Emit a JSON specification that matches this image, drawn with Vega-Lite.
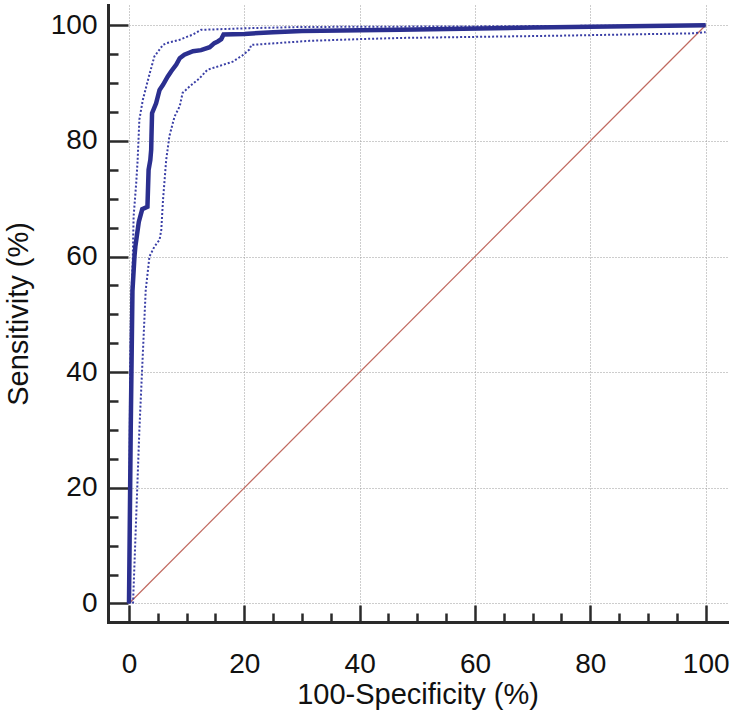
{
  "$schema": "https://vega.github.io/schema/vega-lite/v6.json",
  "width": 619,
  "height": 617,
  "autosize": "none",
  "padding": {"left": 108, "top": 5, "right": 9, "bottom": 98},
  "background": "white",
  "config": {
    "view": {"stroke": null},
    "axis": {
      "labelFont": "Liberation Sans",
      "titleFont": "Liberation Sans",
      "labelFontSize": 28,
      "titleFontSize": 29,
      "titleFontWeight": "normal",
      "labelColor": "#111",
      "titleColor": "#111",
      "domainColor": "#2a2a2a",
      "domainWidth": 3,
      "domainCap": "square",
      "tickColor": "#2a2a2a",
      "tickWidth": 2.5,
      "gridColor": "#9a9a9a",
      "gridDash": [1, 2],
      "gridWidth": 1
    }
  },
  "datasets": {
    "roc": [
      {"series": "main", "o": 1, "x": 0, "y": 0},
      {"series": "main", "o": 2, "x": 0.3, "y": 30},
      {"series": "main", "o": 3, "x": 0.6, "y": 54},
      {"series": "main", "o": 4, "x": 0.95, "y": 60},
      {"series": "main", "o": 5, "x": 1.1, "y": 61.7},
      {"series": "main", "o": 6, "x": 1.7, "y": 66},
      {"series": "main", "o": 7, "x": 2.3, "y": 68.2},
      {"series": "main", "o": 8, "x": 3.2, "y": 68.6},
      {"series": "main", "o": 9, "x": 3.4, "y": 75},
      {"series": "main", "o": 10, "x": 3.7, "y": 76.7},
      {"series": "main", "o": 11, "x": 3.85, "y": 78.5},
      {"series": "main", "o": 12, "x": 3.9, "y": 80.8},
      {"series": "main", "o": 13, "x": 4.0, "y": 84.8},
      {"series": "main", "o": 14, "x": 4.7, "y": 86.5},
      {"series": "main", "o": 15, "x": 5.3, "y": 88.8},
      {"series": "main", "o": 16, "x": 5.9, "y": 89.7},
      {"series": "main", "o": 17, "x": 6.7, "y": 91.1},
      {"series": "main", "o": 18, "x": 7.3, "y": 92},
      {"series": "main", "o": 19, "x": 8.2, "y": 93.2},
      {"series": "main", "o": 20, "x": 8.8, "y": 94.3},
      {"series": "main", "o": 21, "x": 9.6, "y": 94.9},
      {"series": "main", "o": 22, "x": 11.1, "y": 95.5},
      {"series": "main", "o": 23, "x": 12.5, "y": 95.7},
      {"series": "main", "o": 24, "x": 14, "y": 96.2},
      {"series": "main", "o": 25, "x": 14.8, "y": 96.9},
      {"series": "main", "o": 26, "x": 15.4, "y": 97.2},
      {"series": "main", "o": 27, "x": 16, "y": 97.6},
      {"series": "main", "o": 28, "x": 16.4, "y": 98.4},
      {"series": "main", "o": 29, "x": 20, "y": 98.5},
      {"series": "main", "o": 30, "x": 25, "y": 98.8},
      {"series": "main", "o": 31, "x": 30, "y": 99.0},
      {"series": "main", "o": 32, "x": 47, "y": 99.2},
      {"series": "main", "o": 33, "x": 70, "y": 99.6},
      {"series": "main", "o": 34, "x": 100, "y": 100},
      {"series": "upper", "o": 1, "x": 0, "y": 0},
      {"series": "upper", "o": 2, "x": 0.2, "y": 40},
      {"series": "upper", "o": 3, "x": 0.4, "y": 53},
      {"series": "upper", "o": 4, "x": 0.65, "y": 59.4},
      {"series": "upper", "o": 5, "x": 0.8, "y": 66.9},
      {"series": "upper", "o": 6, "x": 1.25, "y": 72.7},
      {"series": "upper", "o": 7, "x": 1.5, "y": 76.7},
      {"series": "upper", "o": 8, "x": 1.8, "y": 83.7},
      {"series": "upper", "o": 9, "x": 2.4, "y": 87.1},
      {"series": "upper", "o": 10, "x": 3.6, "y": 91.7},
      {"series": "upper", "o": 11, "x": 4.4, "y": 94.6},
      {"series": "upper", "o": 12, "x": 5.9, "y": 96.6},
      {"series": "upper", "o": 13, "x": 6.5, "y": 96.9},
      {"series": "upper", "o": 14, "x": 8.8, "y": 97.5},
      {"series": "upper", "o": 15, "x": 11.1, "y": 98.4},
      {"series": "upper", "o": 16, "x": 12.5, "y": 99.2},
      {"series": "upper", "o": 17, "x": 20.9, "y": 99.5},
      {"series": "upper", "o": 18, "x": 30, "y": 99.7},
      {"series": "upper", "o": 19, "x": 60, "y": 99.8},
      {"series": "upper", "o": 20, "x": 100, "y": 100},
      {"series": "lower", "o": 1, "x": 0.7, "y": 0},
      {"series": "lower", "o": 2, "x": 1.8, "y": 30},
      {"series": "lower", "o": 3, "x": 2.9, "y": 54.2},
      {"series": "lower", "o": 4, "x": 3.55, "y": 60},
      {"series": "lower", "o": 5, "x": 4.4, "y": 61.7},
      {"series": "lower", "o": 6, "x": 5.3, "y": 62.9},
      {"series": "lower", "o": 7, "x": 5.6, "y": 64.6},
      {"series": "lower", "o": 8, "x": 5.9, "y": 69.8},
      {"series": "lower", "o": 9, "x": 6.45, "y": 76.7},
      {"series": "lower", "o": 10, "x": 7.0, "y": 80.8},
      {"series": "lower", "o": 11, "x": 7.9, "y": 84.2},
      {"series": "lower", "o": 12, "x": 8.8, "y": 86},
      {"series": "lower", "o": 13, "x": 9.3, "y": 88.3},
      {"series": "lower", "o": 14, "x": 10.5, "y": 89.4},
      {"series": "lower", "o": 15, "x": 12.2, "y": 90.8},
      {"series": "lower", "o": 16, "x": 13.6, "y": 92.3},
      {"series": "lower", "o": 17, "x": 15.5, "y": 92.9},
      {"series": "lower", "o": 18, "x": 18.0, "y": 93.7},
      {"series": "lower", "o": 19, "x": 19.7, "y": 94.8},
      {"series": "lower", "o": 20, "x": 20.9, "y": 95.8},
      {"series": "lower", "o": 21, "x": 21.2, "y": 96.6},
      {"series": "lower", "o": 22, "x": 25.5, "y": 96.9},
      {"series": "lower", "o": 23, "x": 31.3, "y": 97.3},
      {"series": "lower", "o": 24, "x": 40, "y": 97.6},
      {"series": "lower", "o": 25, "x": 47, "y": 97.8},
      {"series": "lower", "o": 26, "x": 75, "y": 98.2},
      {"series": "lower", "o": 27, "x": 97.8, "y": 98.6},
      {"series": "lower", "o": 28, "x": 100, "y": 98.8}
    ],
    "diag": [
      {"x": 0, "y": 0},
      {"x": 100, "y": 100}
    ]
  },
  "encoding": {
    "x": {
      "field": "x",
      "type": "quantitative",
      "scale": {"domain": [-3.64, 103.7], "nice": false, "zero": false},
      "axis": {
        "title": "100-Specificity (%)",
        "values": [0,5,10,15,20,25,30,35,40,45,50,55,60,65,70,75,80,85,90,95,100],
        "labelExpr": "datum.value % 20 === 0 ? datum.label : ''",
        "grid": true,
        "gridOpacity": {"condition": {"test": "datum.value % 20 === 0", "value": 1}, "value": 0},
        "tickSize": {"condition": {"test": "datum.value % 20 === 0", "value": -17}, "value": -9},
        "labelPadding": 45,
        "titlePadding": -6,
        "labelFlush": false,
        "labelOverlap": false
      }
    },
    "y": {
      "field": "y",
      "type": "quantitative",
      "scale": {"domain": [-3.2, 103.5], "nice": false, "zero": false},
      "axis": {
        "title": "Sensitivity (%)",
        "values": [0,5,10,15,20,25,30,35,40,45,50,55,60,65,70,75,80,85,90,95,100],
        "labelExpr": "datum.value % 20 === 0 ? datum.label : ''",
        "grid": true,
        "gridOpacity": {"condition": {"test": "datum.value % 20 === 0", "value": 1}, "value": 0},
        "tickSize": {"condition": {"test": "datum.value % 20 === 0", "value": -20}, "value": -10},
        "labelPadding": 31,
        "titlePadding": 17,
        "labelFlush": false,
        "labelOverlap": false
      }
    }
  },
  "layer": [
    {
      "data": {"name": "diag"},
      "mark": {"type": "line", "color": "#c0695f", "strokeWidth": 1.2}
    },
    {
      "data": {"name": "roc"},
      "transform": [{"filter": "datum.series === 'lower'"}],
      "mark": {"type": "line", "color": "#3a3fa6", "strokeWidth": 2, "strokeDash": [2, 2]},
      "encoding": {"order": {"field": "o"}}
    },
    {
      "data": {"name": "roc"},
      "transform": [{"filter": "datum.series === 'upper'"}],
      "mark": {"type": "line", "color": "#3a3fa6", "strokeWidth": 2, "strokeDash": [2, 2]},
      "encoding": {"order": {"field": "o"}}
    },
    {
      "data": {"name": "roc"},
      "transform": [{"filter": "datum.series === 'main'"}],
      "mark": {"type": "line", "color": "#2b2f8f", "strokeWidth": 4.5, "interpolate": "linear"},
      "encoding": {"order": {"field": "o"}}
    }
  ]
}
